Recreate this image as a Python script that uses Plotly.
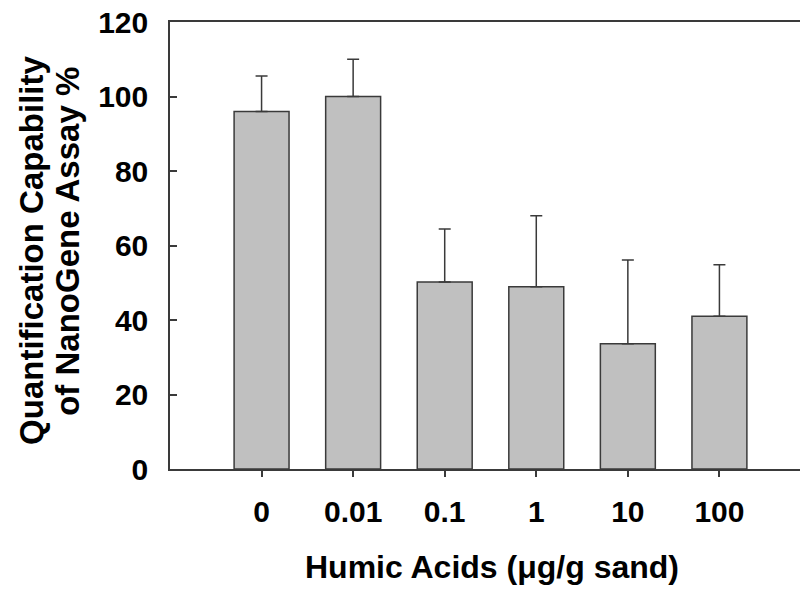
import plotly.graph_objects as go

# Humic acid dose (µg/g sand) and assay quantification capability (%)
categories = ["0", "0.01", "0.1", "1", "10", "100"]
means = [96.0, 100.0, 50.2, 48.9, 33.6, 41.0]
errors_up = [9.5, 10.0, 14.2, 19.1, 22.5, 13.8]
y_ticks = [0, 20, 40, 60, 80, 100, 120]

x_title = "Humic Acids (μg/g sand)"
y_title_lines = ["Quantification Capability", "of NanoGene Assay %"]

FONT = "Liberation Sans, Arial, sans-serif"
LINE = "#3a3a3a"

fig = go.Figure(
    go.Bar(
        x=categories,
        y=means,
        width=0.6,
        marker=dict(color="#c0c0c0", line=dict(color=LINE, width=1.5)),
        error_y=dict(
            type="data",
            symmetric=False,
            array=errors_up,
            arrayminus=[0] * len(errors_up),
            color=LINE,
            thickness=1.5,
            width=6,
        ),
    )
)

fig.update_layout(
    width=801,
    height=590,
    margin=dict(l=170, r=1, t=22, b=121),
    paper_bgcolor="white",
    plot_bgcolor="white",
    showlegend=False,
    font=dict(family=FONT, color="black"),
)

fig.update_xaxes(
    type="category",
    range=[-1.0, 5.88],
    showgrid=False,
    zeroline=False,
    showline=True,
    linecolor=LINE,
    linewidth=1.5,
    mirror=True,
    ticks="outside",
    ticklen=6,
    tickwidth=1.5,
    tickcolor=LINE,
    tickfont=dict(family=FONT, size=30, weight="bold"),
    ticklabelstandoff=9,
)

fig.update_yaxes(
    range=[0, 120],
    tickvals=y_ticks,
    showgrid=False,
    zeroline=False,
    showline=True,
    linecolor=LINE,
    linewidth=1.5,
    ticks="inside",
    ticklen=7,
    tickwidth=1.5,
    tickcolor=LINE,
    tickfont=dict(family=FONT, size=30, weight="bold"),
    ticklabelstandoff=14,
)

title_font = dict(family=FONT, size=32, weight="bold", color="black")

# x-axis title below the tick labels
fig.add_annotation(
    text=x_title, xref="paper", yref="paper", x=0.511, y=-0.219,
    xanchor="center", yanchor="middle", showarrow=False, font=title_font,
)

# two-line rotated y-axis title
for txt, xp, yp in zip(y_title_lines, [-0.219, -0.163], [0.488, 0.509]):
    fig.add_annotation(
        text=txt, xref="paper", yref="paper", x=xp, y=yp, textangle=-90,
        xanchor="center", yanchor="middle", showarrow=False,
        font=dict(family=FONT, size=33, weight="bold", color="black"),
    )

fig.write_html("out.html")
